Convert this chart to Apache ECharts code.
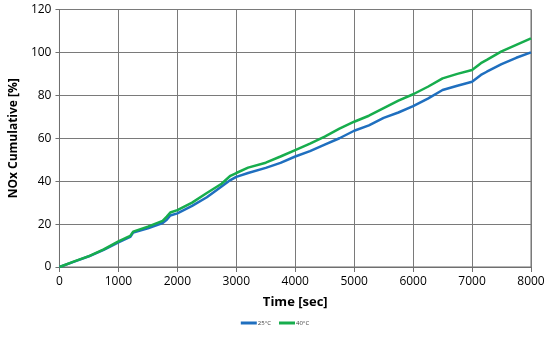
<!DOCTYPE html>
<html><head><meta charset="utf-8">
<script src="https://cdn.jsdelivr.net/npm/echarts@6/dist/echarts.min.js"></script>
<style>html,body{margin:0;padding:0;background:#fff}#c{width:550px;height:337px}</style>
</head><body><div id="c"></div>
<script>
const times = [0,250,500,750,1000,1200,1250,1500,1750,1820,1880,2000,2250,2500,2750,2900,3000,3200,3500,3750,4000,4250,4500,4750,5000,5250,5500,5750,6000,6250,6500,6750,7000,7150,7250,7500,7750,8000];
const blue25 = [0,2.5,5,8,11.5,14,16,18,20.5,22,24,25,28.5,32.5,37.5,40.5,42,43.8,46.2,48.5,51.5,54,57,60,63.5,66,69.5,72,75,78.5,82.5,84.5,86.3,89.5,91,94.5,97.5,100];
const green40 = [0,2.6,5.1,8.2,11.9,14.5,16.5,18.8,21.5,23.5,25.4,26.5,30,34.5,38.8,42.5,43.8,46.3,48.6,51.5,54.5,57.5,60.8,64.5,67.7,70.5,74,77.5,80.5,84,87.9,90,91.8,95,96.5,100.5,103.5,106.5];
const seriesNames = ['25°C','40°C'];
const font = 'Open Sans, Liberation Sans, sans-serif';
const chart = echarts.init(document.getElementById('c'));
const pair = a => times.map((t,i)=>[t,a[i]]);
chart.setOption({
  animation:false,
  grid:{left:57,right:19,top:9.5,bottom:70,show:true,borderColor:'#6f6f6f',borderWidth:1},
  xAxis:{type:'value',min:0,max:8000,interval:1000,
    name:'Time [sec]',nameLocation:'middle',nameGap:29,
    nameTextStyle:{fontFamily:font,fontWeight:'bold',fontSize:13,color:'#000'},
    axisLine:{show:true,lineStyle:{color:'#6f6f6f'}},
    axisTick:{show:true,length:5,lineStyle:{color:'#6f6f6f'}},
    axisLabel:{fontFamily:font,fontSize:12,color:'#000',margin:9,formatter:v=>String(v)},
    splitLine:{show:true,lineStyle:{color:'#7a7a7a',width:1}}},
  yAxis:{type:'value',min:0,max:120,interval:20,
    name:'NOx Cumulative [%]',nameLocation:'middle',nameGap:36,nameRotate:90,
    nameTextStyle:{fontFamily:font,fontWeight:'bold',fontSize:12,color:'#000'},
    axisLine:{show:true,lineStyle:{color:'#6f6f6f'}},
    axisTick:{show:true,length:4,lineStyle:{color:'#6f6f6f'}},
    axisLabel:{fontFamily:font,fontSize:12,color:'#000',margin:8,formatter:v=>String(v)},
    splitLine:{show:true,lineStyle:{color:'#7a7a7a',width:1}}},
  legend:{bottom:6,left:'center',itemWidth:16,itemHeight:3,itemGap:8,icon:'rect',
    textStyle:{fontFamily:font,fontSize:6,color:'#404040',padding:[0,0,0,-4]},data:seriesNames},
  series:[
    {name:seriesNames[0],type:'line',data:pair(blue25),showSymbol:false,lineStyle:{color:'#1f6fbf',width:2.5},itemStyle:{color:'#1f6fbf'}},
    {name:seriesNames[1],type:'line',data:pair(green40),showSymbol:false,lineStyle:{color:'#17ad4d',width:2.5},itemStyle:{color:'#17ad4d'}}
  ]
});
</script></body></html>
